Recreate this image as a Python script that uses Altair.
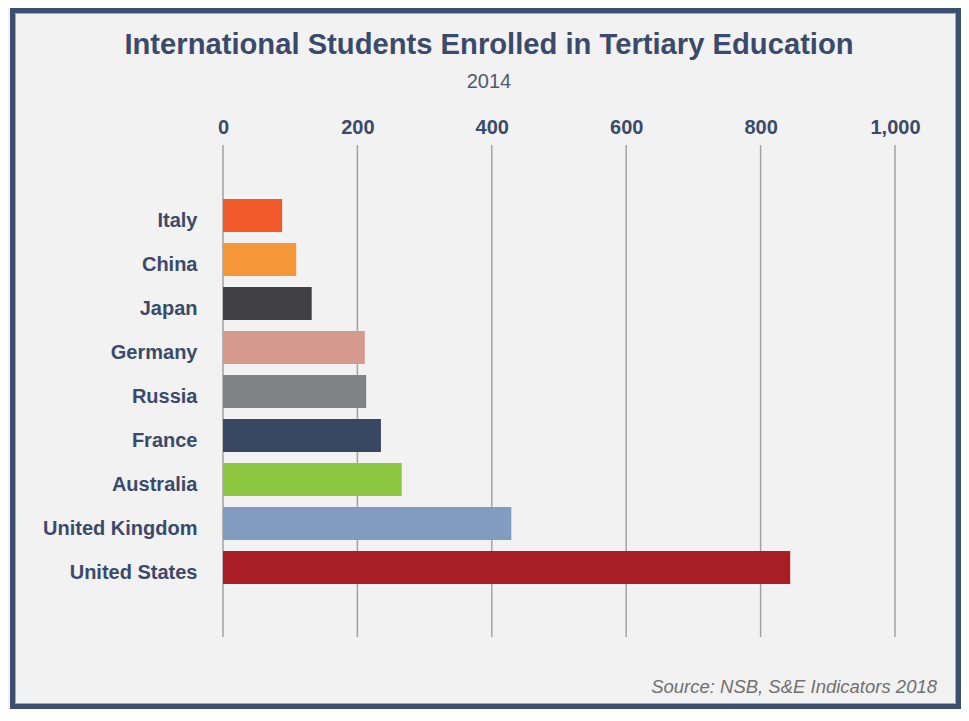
import altair as alt
import pandas as pd

countries = ["Italy", "China", "Japan", "Germany", "Russia", "France",
             "Australia", "United Kingdom", "United States"]
students = [88, 109, 132, 211, 213, 235, 266, 429, 844]
colors = ["#f05a2a", "#f59638", "#414143", "#d6998d", "#818285", "#394762",
          "#8dc641", "#829bc1", "#a91e24"]
tick_values = [0, 200, 400, 600, 800, 1000]

title_text = "International Students Enrolled in Tertiary Education"
subtitle_text = "2014"
source_text = "Source: NSB, S&E Indicators 2018"

W, H = 672, 492
NAVY = "#3b4a6b"
FONT = "Liberation Sans"

df = pd.DataFrame({"country": countries, "students": students, "color": colors})
grid_df = pd.DataFrame({"v": tick_values})

xscale = alt.Scale(domain=[0, 1000], nice=False, zero=True)
one = alt.Data(values=[{}])

frame = alt.Chart(one).mark_rect(
    fill=None, stroke="#3c4f70", strokeWidth=5
).encode(
    x=alt.value(-210.5), x2=alt.value(735.5),
    y=alt.value(-134.5), y2=alt.value(561.5)
)
frame_inner = alt.Chart(one).mark_rect(
    fill=None, stroke="#9aa7bf", strokeWidth=1
).encode(
    x=alt.value(-207.5), x2=alt.value(732.5),
    y=alt.value(-131.5), y2=alt.value(558.5)
)

grid = alt.Chart(grid_df).mark_rule(color="#a3a3a3", strokeWidth=1.5).encode(
    x=alt.X("v:Q", scale=xscale,
            axis=alt.Axis(orient="top", values=tick_values, format=",d",
                          grid=False, domain=False, ticks=False, tickSize=0,
                          labelFlush=False, labelPadding=8, labelFont=FONT,
                          labelFontSize=20, labelFontWeight="bold",
                          labelColor=NAVY, title=None)),
    y=alt.value(0), y2=alt.value(H)
)

bars = alt.Chart(df).mark_bar().encode(
    x=alt.X("students:Q", scale=xscale),
    y=alt.Y("country:N", sort=countries,
            scale=alt.Scale(paddingInner=0.25, paddingOuter=0.125,
                            range=[48.5, 444.5]),
            axis=alt.Axis(title=None, domain=False, ticks=False, tickSize=0,
                          labelPadding=26, labelOffset=5, labelFont=FONT,
                          labelFontSize=20, labelFontWeight="bold",
                          labelColor=NAVY, labelLimit=300)),
    color=alt.Color("color:N", scale=None, legend=None)
)

title = alt.Chart(one).mark_text(
    text=title_text, align="center", baseline="alphabetic",
    font=FONT, fontSize=29.2, fontWeight="bold", color=NAVY
).encode(x=alt.value(266), y=alt.value(-91))

subtitle = alt.Chart(one).mark_text(
    text=subtitle_text, align="center", baseline="alphabetic",
    font=FONT, fontSize=20, color="#4d5a73"
).encode(x=alt.value(266), y=alt.value(-57))

source = alt.Chart(one).mark_text(
    text=source_text, align="right", baseline="alphabetic",
    font=FONT, fontSize=18.5, fontStyle="italic", color="#707070"
).encode(x=alt.value(714), y=alt.value(548))

chart = alt.layer(frame, frame_inner, grid, bars, title, subtitle, source).properties(
    width=W, height=H,
    autosize=alt.AutoSizeParams(type="none"),
    padding={"left": 215, "top": 137, "right": 66, "bottom": 72},
    background="#f2f2f2",
).configure_view(stroke=None)

chart.save("out.html", embed_options={"renderer": "svg", "actions": False})
